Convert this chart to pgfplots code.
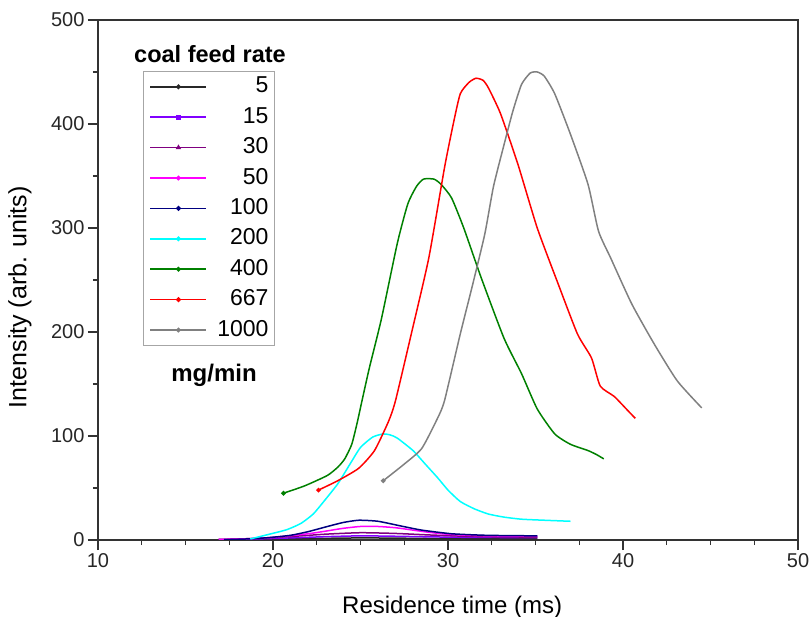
\documentclass[border=0pt]{standalone}
\usepackage{fontspec}
\setmainfont{Liberation Sans}
\usepackage{pgfplots}
\pgfplotsset{compat=1.18}

% Origin-style palette
\definecolor{cBlack}{RGB}{40,40,40}
\definecolor{cViolet}{RGB}{128,0,255}
\definecolor{cPurple}{RGB}{128,0,128}
\definecolor{cMagenta}{RGB}{255,0,255}
\definecolor{cNavy}{RGB}{0,0,128}
\definecolor{cCyan}{RGB}{0,255,255}
\definecolor{cGreen}{RGB}{0,128,0}
\definecolor{cRed}{RGB}{255,0,0}
\definecolor{cGray}{RGB}{128,128,128}

\begin{document}
\begin{tikzpicture}[x=1pt,y=1pt]
\begin{axis}[
  width=700pt, height=520pt, scale only axis,
  xmin=10, xmax=50, ymin=0, ymax=500,
  xtick={10,20,30,40,50}, ytick={0,100,200,300,400,500},
  minor x tick num=3, minor y tick num=1,
  tick pos=left, tick align=outside,
  major tick length=10pt, minor tick length=5pt,
  axis line style={line width=1.6pt, color=black!80},
  every tick/.style={line width=1.4pt, black!80},
  /pgf/number format/assume math mode=true,
  tick label style={font=\fontsize{20}{24}\selectfont, text=black!85},
  xlabel={Residence time (ms)},
  ylabel={Intensity (arb. units)},
  x label style={at={(axis description cs:0.506,0)}, anchor=base, yshift=-73pt,
    font=\fontsize{24}{28}\selectfont},
  y label style={at={(axis description cs:-0.1114,0.467)}, anchor=center,
    font=\fontsize{25}{28}\selectfont},
  legend image code/.code={
    \draw[#1, line width=1.7pt, sharp plot, mark indices={2}]
      plot coordinates {(0pt,0pt) (28pt,0pt) (56pt,0pt)};
  },
  legend cell align=right,
  legend style={at={(axis description cs:0.0643,0.9019)}, anchor=north west,
    draw=black!35, line width=1.2pt, fill=white,
    inner xsep=6pt, inner ysep=5.2pt, row sep=10.4pt, column sep=10pt,
    font=\fontsize{23}{26}\selectfont,
    nodes={inner sep=0pt, text height=16pt, text depth=4pt}},
  every axis plot/.append style={line width=1.5pt, mark size=1.5pt, smooth, tension=0.35},
  start mark/.style={mark indices={1}},
  no start mark/.style={mark indices={1000}},
]
\coordinate (bl) at (rel axis cs:0,0);

% 5 mg/min
\addplot[cBlack, mark=*, no start mark] coordinates {
(16.9,0.3) (19,0.6) (21,1.0) (23,1.6) (25,2.0) (27,1.8) (29,1.4) (31,1.2) (33,1.1) (35.1,1.0)};
\addlegendentry{5}
% 15 mg/min
\addplot[cViolet, mark=square*, no start mark] coordinates {
(16.9,0.4) (19,1.0) (21,2.0) (23,3.2) (25,4.0) (27,3.6) (29,3.0) (31,2.6) (33,2.4) (35.1,2.3)};
\addlegendentry{15}
% 30 mg/min
\addplot[cPurple, mark=triangle*, no start mark] coordinates {
(16.9,0.5) (19,1.5) (21,3.3) (23,5.6) (25,7.0) (27,6.3) (29,4.8) (31,3.6) (33,3.0) (35.1,2.8)};
\addlegendentry{30}
% 50 mg/min
\addplot[cMagenta, mark=*, no start mark] coordinates {
(16.9,0.5) (18.5,1.2) (20,2.5) (22,6.0) (23,8.5) (24,11.2) (25,13.0) (26,13.0) (27,11.8) (28,9.5) (29,7.2) (30,5.5) (31.5,4.3) (33,3.8) (35.1,3.5)};
\addlegendentry{50}
% 100 mg/min
\addplot[cNavy, mark=*, no start mark] coordinates {
(17.2,0.3) (18.5,1.0) (19.7,2.2) (21,4.5) (22,8.0) (23,12.5) (24,16.8) (24.9,19.0) (26,18.0) (27.3,13.5) (28.5,9.5) (30.2,6.0) (32,4.6) (33.5,4.2) (35.1,4.0)};
\addlegendentry{100}
% 200 mg/min
\addplot[cCyan, mark=*, no start mark] coordinates {
(18.7,1) (19.9,6) (20.8,10) (21.6,16) (22.3,25) (22.9,37) (23.7,54) (24.4,73) (25.0,89) (25.7,99) (26.3,102) (26.7,101) (27.1,98) (28.0,86) (28.7,73) (29.4,60) (30.0,48) (30.7,37) (31.5,30) (32.3,25) (33.2,22) (34.2,20) (35.5,19) (37.0,18)};
\addlegendentry{200}
% 400 mg/min
\addplot[cGreen, mark=*, start mark] coordinates {
(20.6,45) (21.8,52) (23.1,62) (23.7,70) (24.1,78) (24.5,92) (24.8,112) (25.1,135) (25.5,165) (26.2,213) (27.1,285) (27.7,323) (28.2,340) (28.6,347) (29.2,347) (29.6,342) (30.2,329) (30.9,300) (31.9,252) (33.2,194) (34.2,160) (35.1,126) (36.1,102) (37.0,92) (38.0,86) (38.5,82) (38.9,78)};
\addlegendentry{400}
% 667 mg/min
\addplot[cRed, mark=*, start mark] coordinates {
(22.6,48) (23.7,57) (24.9,69) (25.8,86) (26.6,114) (27.0,134) (27.9,198) (28.9,271) (29.8,358) (30.3,400) (30.7,429) (31.2,440) (31.6,444) (32.0,442) (32.3,435) (33.0,410) (34.0,361) (35.1,300) (36.3,246) (37.4,198) (38.2,175) (38.7,148) (39.5,138) (40.3,124) (40.7,117)};
\addlegendentry{667}
% 1000 mg/min
\addplot[cGray, mark=*, start mark] coordinates {
(26.3,57) (27.5,73) (28.5,88) (29.4,117) (29.8,134) (30.7,198) (31.4,245) (32.1,294) (32.6,340) (33.2,380) (33.7,412) (34.2,438) (34.7,449) (35.1,450) (35.5,446) (36.1,429) (37.0,390) (38.0,342) (38.6,297) (39.3,271) (40.5,227) (41.8,188) (43.1,153) (44.5,127)};
\addlegendentry{1000}
\end{axis}

% legend heading and unit
\node[font=\bfseries\fontsize{23.5}{26}\selectfont] at ([shift={(112,486)}]bl) {coal feed rate};
\node[font=\bfseries\fontsize{24}{26}\selectfont] at ([shift={(116,165)}]bl) {mg/min};

% page frame around the plot
\pgfresetboundingbox
\path[use as bounding box] ([shift={(-98,-77)}]bl) rectangle ([shift={(712,540)}]bl);
\end{tikzpicture}
\end{document}
